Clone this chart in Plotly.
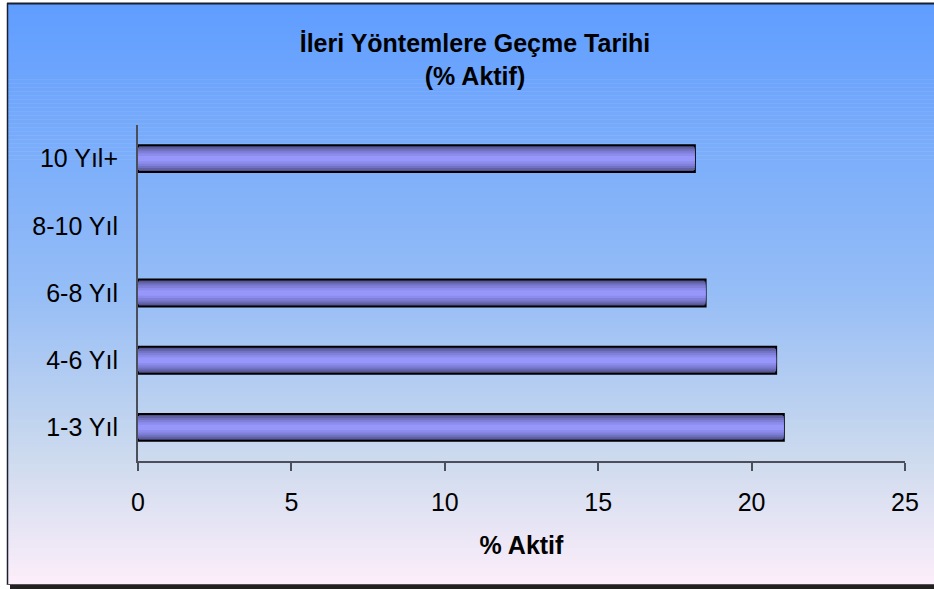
import plotly.graph_objects as go

categories = ["1-3 Yıl", "4-6 Yıl", "6-8 Yıl", "8-10 Yıl", "10 Yıl+"]
values = [21.05, 20.8, 18.5, None, 18.15]
x_ticks = [0, 5, 10, 15, 20, 25]

W, H = 934, 589
ML, MR, MT, MB = 138, 29, 125, 128
PW, PH = W - ML - MR, H - MT - MB

def xp(px):
    return (px - ML) / PW

def yp(py):
    return (H - MB - py) / PH

fig = go.Figure()

# bar gradient via overlaid bars of decreasing width
layers = [
    (0.40, "#50508a", dict(color="black", width=2)),
    (0.34, "#6161a6", None),
    (0.28, "#7272c2", None),
    (0.22, "#8080da", None),
    (0.15, "#8c8cec", None),
    (0.08, "#9797fb", None),
]
for w, c, ln in layers:
    fig.add_trace(go.Bar(
        y=categories, x=values, orientation="h", width=w,
        marker=dict(color=c, line=ln if ln else dict(width=0)),
        showlegend=False, hoverinfo="x+y",
    ))

# background gradient strips
stops = [(0.0, (95, 157, 255)), (0.5, (150, 189, 246)), (0.78, (204, 218, 238)), (1.0, (253, 238, 250))]

def col(t):
    for (t0, c0), (t1, c1) in zip(stops, stops[1:]):
        if t <= t1:
            f = (t - t0) / (t1 - t0) if t1 > t0 else 0
            return "rgb(%d,%d,%d)" % tuple(round(a + (b - a) * f) for a, b in zip(c0, c1))
    return "rgb(%d,%d,%d)" % stops[-1][1]

shapes = []
top, bot, left, right = 3, 584, 7, W
N = 145
for i in range(N):
    y0 = top + (bot - top) * i / N
    y1 = top + (bot - top) * (i + 1) / N + 0.6
    shapes.append(dict(type="rect", xref="paper", yref="paper", layer="below",
                       x0=xp(left), x1=xp(right), y0=yp(y0), y1=yp(min(y1, bot)),
                       fillcolor=col((i + 0.5) / N), line=dict(width=0)))
# frame lines / shadow
shapes.append(dict(type="line", xref="paper", yref="paper", layer="below",
                   x0=xp(left), x1=xp(W), y0=yp(3.5), y1=yp(3.5), line=dict(color="#1b2030", width=2)))
shapes.append(dict(type="line", xref="paper", yref="paper", layer="below",
                   x0=xp(7.5), x1=xp(7.5), y0=yp(3), y1=yp(585), line=dict(color="#1b2030", width=1.5)))
shapes.append(dict(type="rect", xref="paper", yref="paper", layer="below",
                   x0=xp(10), x1=xp(W), y0=yp(585), y1=yp(589), fillcolor="#222222", line=dict(width=0)))
shapes.append(dict(type="line", xref="paper", yref="paper", layer="below",
                   x0=xp(7), x1=xp(W), y0=yp(584.5), y1=yp(584.5), line=dict(color="#555555", width=1)))

FONT = "Arial, Liberation Sans, sans-serif"

fig.update_layout(
    width=W, height=H,
    margin=dict(l=ML, r=MR, t=MT, b=MB, pad=0),
    paper_bgcolor="white", plot_bgcolor="rgba(0,0,0,0)",
    barmode="overlay",
    shapes=shapes,
    font=dict(family=FONT, size=25, color="black"),
    title=dict(text="<b>İleri Yöntemlere Geçme Tarihi<br>(% Aktif)</b>",
               xref="container", yref="container", x=475 / W, y=1 - 52 / H,
               xanchor="center", yanchor="middle",
               font=dict(family=FONT, size=25, color="black")),
    xaxis=dict(range=[0, 25], tickvals=x_ticks, showgrid=False, zeroline=False,
               showline=True, linecolor="#4a4f5a", linewidth=2,
               ticks="outside", ticklen=8, tickwidth=2, tickcolor="#4a4f5a",
               ticklabelstandoff=10,
               tickfont=dict(size=25),
               title=dict(text="<b>% Aktif</b>", font=dict(size=25), standoff=21)),
    yaxis=dict(categoryorder="array", categoryarray=categories,
               range=[-0.5, 4.5],
               showgrid=False, zeroline=False, showline=True,
               linecolor="#4a4f5a", linewidth=2, ticks="", ticklabelstandoff=13,
               tickfont=dict(size=25)),
)

fig.write_html("out.html")
